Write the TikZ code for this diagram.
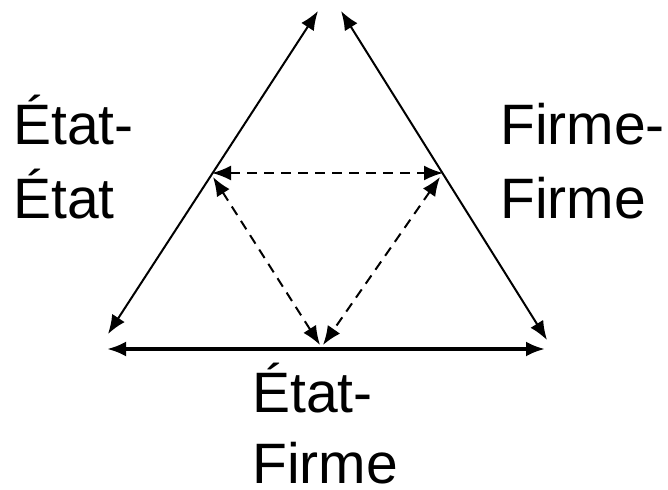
\documentclass[tikz,border=0pt]{standalone}
\usepackage{fontspec}
\setmainfont{Liberation Sans}
\usetikzlibrary{arrows.meta}
\begin{document}
\begin{tikzpicture}[x=1pt,y=-1pt,
  >={Latex[length=19pt,width=15pt]},
  solidline/.style={line width=2pt,<->},
  bottomline/.style={line width=3.5pt,<->},
  dashline/.style={line width=2pt,dash pattern=on 10pt off 7pt,<->},
  lbl/.style={anchor=base west,inner sep=0pt,font=\fontsize{57}{73}\selectfont}]
\useasboundingbox (0,0) rectangle (668,489);
% outer triangle end points
\coordinate (lt) at (318,11);
\coordinate (lb) at (108,334);
\coordinate (rt) at (341,11);
\coordinate (rb) at (547,340);
\coordinate (bl) at (107,349);
\coordinate (br) at (545,349);
% inner dashed triangle end points
\coordinate (dl) at (212,173);
\coordinate (dr) at (443,173);
\coordinate (dl2) at (213,177);
\coordinate (dr2) at (440,177);
\coordinate (db1) at (320,345);
\coordinate (db2) at (323,345);
\draw[solidline] (lb) -- (lt);
\draw[solidline] (rb) -- (rt);
\draw[bottomline] (bl) -- (br);
\draw[dashline] (dl) -- (dr);
\draw[dashline] (dl2) -- (db1);
\draw[dashline] (dr2) -- (db2);
% labels
\node[lbl] (l1) at (13,145) {État-};
\node[lbl] (l2) at (13,218) {État};
\node[lbl] (r1) at (500,145) {Firme-};
\node[lbl] (r2) at (500,218) {Firme};
\node[lbl] (b1) at (252,412) {État-};
\node[lbl] (b2) at (252,483) {Firme};
\end{tikzpicture}
\end{document}
